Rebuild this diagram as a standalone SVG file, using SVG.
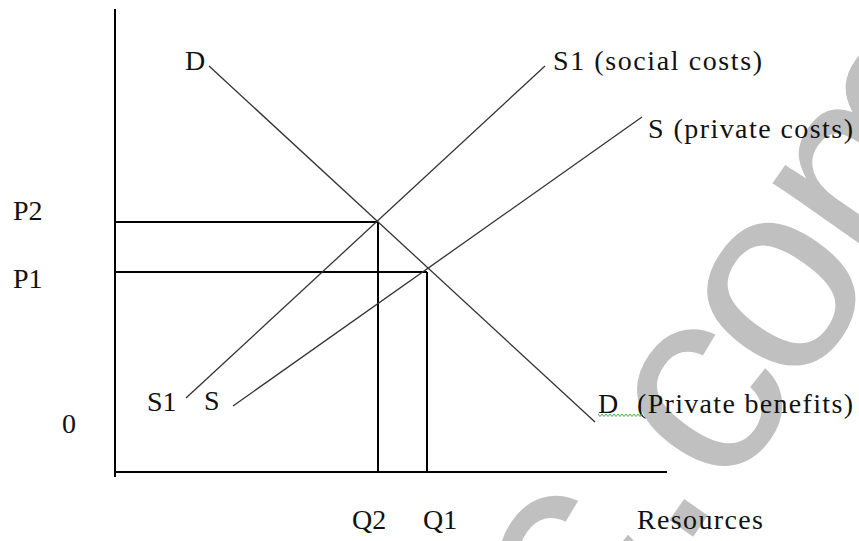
<svg xmlns="http://www.w3.org/2000/svg" width="859" height="541" viewBox="0 0 859 541">
  <style>
    .lbl { font-family: "Liberation Serif", "Times New Roman", serif; font-size: 28px; fill: #111; }
    .wm { font-family: "Liberation Sans", Arial, sans-serif; font-weight: 400; font-size: 270px; fill: #c0c0c0; }
    .axis { stroke: #000; stroke-width: 2; fill: none; }
    .curve { stroke: #333; stroke-width: 1.3; fill: none; }
  </style>
  <rect width="859" height="541" fill="#fff"/>
  <g id="watermark" transform="translate(708,402) rotate(-55)">
    <text class="wm" x="-215" y="53" text-anchor="middle">c</text>
    <text class="wm" x="-106" y="65" text-anchor="middle">.</text>
    <text class="wm" x="0" y="70" text-anchor="middle">c</text>
    <text class="wm" x="130" y="70" text-anchor="middle">o</text>
    <text class="wm" x="198" y="70">m</text>
  </g>
  <g id="axes">
    <line class="axis" x1="115" y1="9" x2="115" y2="477"/>
    <line class="axis" x1="115" y1="472" x2="667" y2="472"/>
  </g>
  <g id="connectors">
    <line class="axis" x1="115" y1="222" x2="378" y2="222"/>
    <line class="axis" x1="378" y1="222" x2="378" y2="472"/>
    <line class="axis" x1="115" y1="272" x2="427" y2="272"/>
    <line class="axis" x1="427" y1="272" x2="427" y2="472"/>
    <line class="curve" x1="209" y1="66" x2="595" y2="422"/>
    <line class="curve" x1="186" y1="398" x2="545" y2="66"/>
    <line class="curve" x1="233" y1="406" x2="642" y2="117"/>
  </g>
  <g id="labels">
    <text class="lbl" x="185" y="70">D</text>
    <text class="lbl" x="553" y="70" textLength="209" lengthAdjust="spacing">S1 (social costs)</text>
    <text class="lbl" x="648" y="138" textLength="205" lengthAdjust="spacing">S (private costs)</text>
    <text class="lbl" x="13" y="220">P2</text>
    <text class="lbl" x="13" y="288">P1</text>
    <text class="lbl" x="62" y="433">0</text>
    <text class="lbl" x="147" y="411">S1</text>
    <text class="lbl" x="204" y="410">S</text>
    <text class="lbl" x="598" y="413">D</text>
    <text class="lbl" x="637" y="413" textLength="216" lengthAdjust="spacing">(Private benefits)</text>
    <text class="lbl" x="352" y="529">Q2</text>
    <text class="lbl" x="423" y="529">Q1</text>
    <text class="lbl" x="637" y="529" textLength="126" lengthAdjust="spacing">Resources</text>
    <path d="M598,414 l2,2.5 l2,-2.5 l2,2.5 l2,-2.5 l2,2.5 l2,-2.5 l2,2.5 l2,-2.5 l2,2.5 l2,-2.5 l2,2.5 l2,-2.5 l2,2.5 l2,-2.5 l2,2.5 l2,-2.5 l2,2.5 l2,-2.5 l2,2.5 l2,-2.5 l2,2.5 l2,-2.5" stroke="#3cb43c" stroke-width="1" fill="none"/>
  </g>
</svg>
